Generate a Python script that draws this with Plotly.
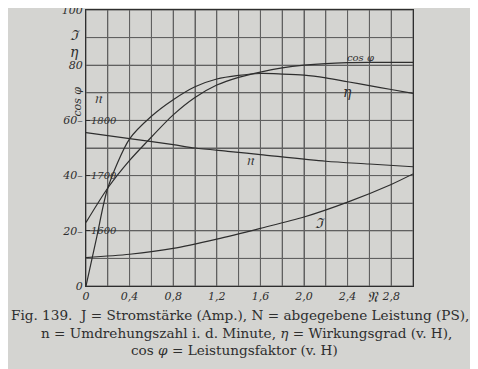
import plotly.graph_objects as go

# --- data ---
N_eta = [0, 0.1, 0.2, 0.4, 0.6, 0.8, 1.0, 1.2, 1.4, 1.6, 1.8, 2.0, 2.2, 2.4, 2.6, 2.8, 3.0]
eta = [0, 18, 35.5, 53.3, 61.5, 67.5, 72.2, 75.0, 76.3, 77.0, 76.8, 76.4, 75.4, 74.0, 72.6, 71.2, 69.8]

N_cos = [0, 0.2, 0.4, 0.56, 0.8, 1.0, 1.2, 1.4, 1.6, 1.8, 2.0, 2.2, 2.4, 2.6, 2.8, 3.0]
cos_phi = [23, 35.5, 45.5, 52.3, 62.0, 68.3, 72.8, 75.6, 77.5, 79.0, 80.0, 80.6, 80.9, 81.0, 81.0, 81.0]

N_n = [0, 0.4, 0.8, 1.0, 1.3, 1.6, 2.2, 2.6, 3.0]
n_rpm = [1778, 1767, 1756, 1750, 1744, 1738, 1726, 1721, 1716]

N_J = [0, 0.4, 0.8, 1.2, 1.6, 2.0, 2.4, 2.8, 3.0]
J_amp = [10.3, 11.5, 13.6, 17.0, 20.9, 25.0, 30.4, 36.8, 40.6]

x_ticks = [0, 0.2, 0.4, 0.6, 0.8, 1.0, 1.2, 1.4, 1.6, 1.8, 2.0, 2.2, 2.4, 2.6, 2.8, 3.0]
x_ticktext = ["0", "", "0,4", "", "0,8", "", "1,2", "", "1,6", "", "2,0", "", "2,4", "", "2,8", ""]
y_ticks = [0, 10, 20, 30, 40, 50, 60, 70, 80, 90, 100]
y_ticktext = ["0", "", "20–", "", "40–", "", "60–", "", "80", "", "100"]
n_ticks = [1600, 1700, 1800]
n_ticktext = ["1600", "1700", "1800"]

caption = [
    "Fig. 139.  J = Stromstärke (Amp.), N = abgegebene Leistung (PS),",
    "n = Umdrehungszahl i. d. Minute, <i>η</i> = Wirkungsgrad (v. H),",
    "cos <i>φ</i> = Leistungsfaktor (v. H)",
]

BG = "#d4d4d1"
INK = "#2e2e2e"
GRID = "#606060"
hand = dict(family="DejaVu Serif", size=11, color=INK, style="italic")

fig = go.Figure()
line = dict(color=INK, width=1.2, shape="spline", smoothing=0.8)
fig.add_trace(go.Scatter(x=N_eta, y=eta, mode="lines", line=line, name="η"))
fig.add_trace(go.Scatter(x=N_cos, y=cos_phi, mode="lines", line=line, name="cos φ"))
fig.add_trace(go.Scatter(x=N_J, y=J_amp, mode="lines", line=line, name="J"))
fig.add_trace(go.Scatter(x=N_n, y=n_rpm, mode="lines", line=line, name="n", yaxis="y2"))

# the page body has an 8 px margin, so the figure is offset by (8, 8)
fig.update_layout(
    width=470, height=361,
    margin=dict(l=78, r=65, t=2, b=83, autoexpand=False),
    paper_bgcolor=BG, plot_bgcolor="rgba(0,0,0,0)",
    showlegend=False,
    xaxis=dict(range=[0, 3.0], tickvals=x_ticks, ticktext=x_ticktext,
               showgrid=True, gridcolor=GRID, gridwidth=1,
               showline=True, linecolor=INK, linewidth=1.3, mirror=True,
               zeroline=False, ticks="", tickfont=hand, ticklabeloverflow="allow",
               automargin=False),
    yaxis=dict(range=[0, 100], tickvals=y_ticks, ticktext=y_ticktext,
               showgrid=True, gridcolor=GRID, gridwidth=1,
               showline=True, linecolor=INK, linewidth=1.3, mirror=True,
               zeroline=False, ticks="", tickfont=hand, ticklabeloverflow="allow",
               automargin=False),
    yaxis2=dict(range=[1500, 2000], overlaying="y", side="left",
                tickvals=n_ticks, ticktext=n_ticktext,
                ticklabelposition="inside", ticks="inside", ticklen=4, tickcolor=INK,
                showgrid=False, showline=False, zeroline=False,
                tickfont=dict(family="DejaVu Serif", size=10, color=INK, style="italic"),
                ticklabeloverflow="allow", automargin=False),
)

# grid lines (drawn as shapes at the tick positions, beneath the curves)
shapes = []
for xv in x_ticks:
    shapes.append(dict(type="line", xref="x", yref="paper", x0=xv, x1=xv, y0=0, y1=1,
                       line=dict(color=GRID, width=1), layer="below"))
for yv in y_ticks:
    shapes.append(dict(type="line", xref="paper", yref="y", x0=0, x1=1, y0=yv, y1=yv,
                       line=dict(color=GRID, width=1), layer="below"))
fig.update_layout(shapes=shapes)

ann = []
def A(text, x, y, xref="x", yref="y", size=13, angle=0):
    ann.append(dict(text=text, x=x, y=y, xref=xref, yref=yref, showarrow=False,
                    textangle=angle, xanchor="center", yanchor="middle",
                    font=dict(family="DejaVu Serif", size=size, color=INK, style="italic")))

# axis labels at left
A("ℑ", -0.034, 0.909, "paper", "paper", 14)
A("η", -0.034, 0.848, "paper", "paper", 14)
A("cos φ", -0.026, 0.67, "paper", "paper", 11, angle=-90)
A("𝔫", 0.037, 0.681, "paper", "paper", 15)
# curve labels
A("cos φ", 2.52, 82.8, size=10)
A("η", 2.40, 70.3, size=14)
A("𝔫", 1.51, 45.7, size=15)
A("ℑ", 2.15, 22.8, size=14)
A("𝔑", 2.63, -0.04, "x", "paper", size=15)
# caption
for txt, cx, cy in zip(caption, [0.471, 0.492, 0.453], [-0.105, -0.170, -0.232]):
    ann.append(dict(text=txt, x=cx, y=cy, xref="paper", yref="paper", showarrow=False,
                    xanchor="center", yanchor="middle",
                    font=dict(family="DejaVu Serif", size=13.6, color=INK)))
fig.update_layout(annotations=ann)

fig.write_html("out.html")
